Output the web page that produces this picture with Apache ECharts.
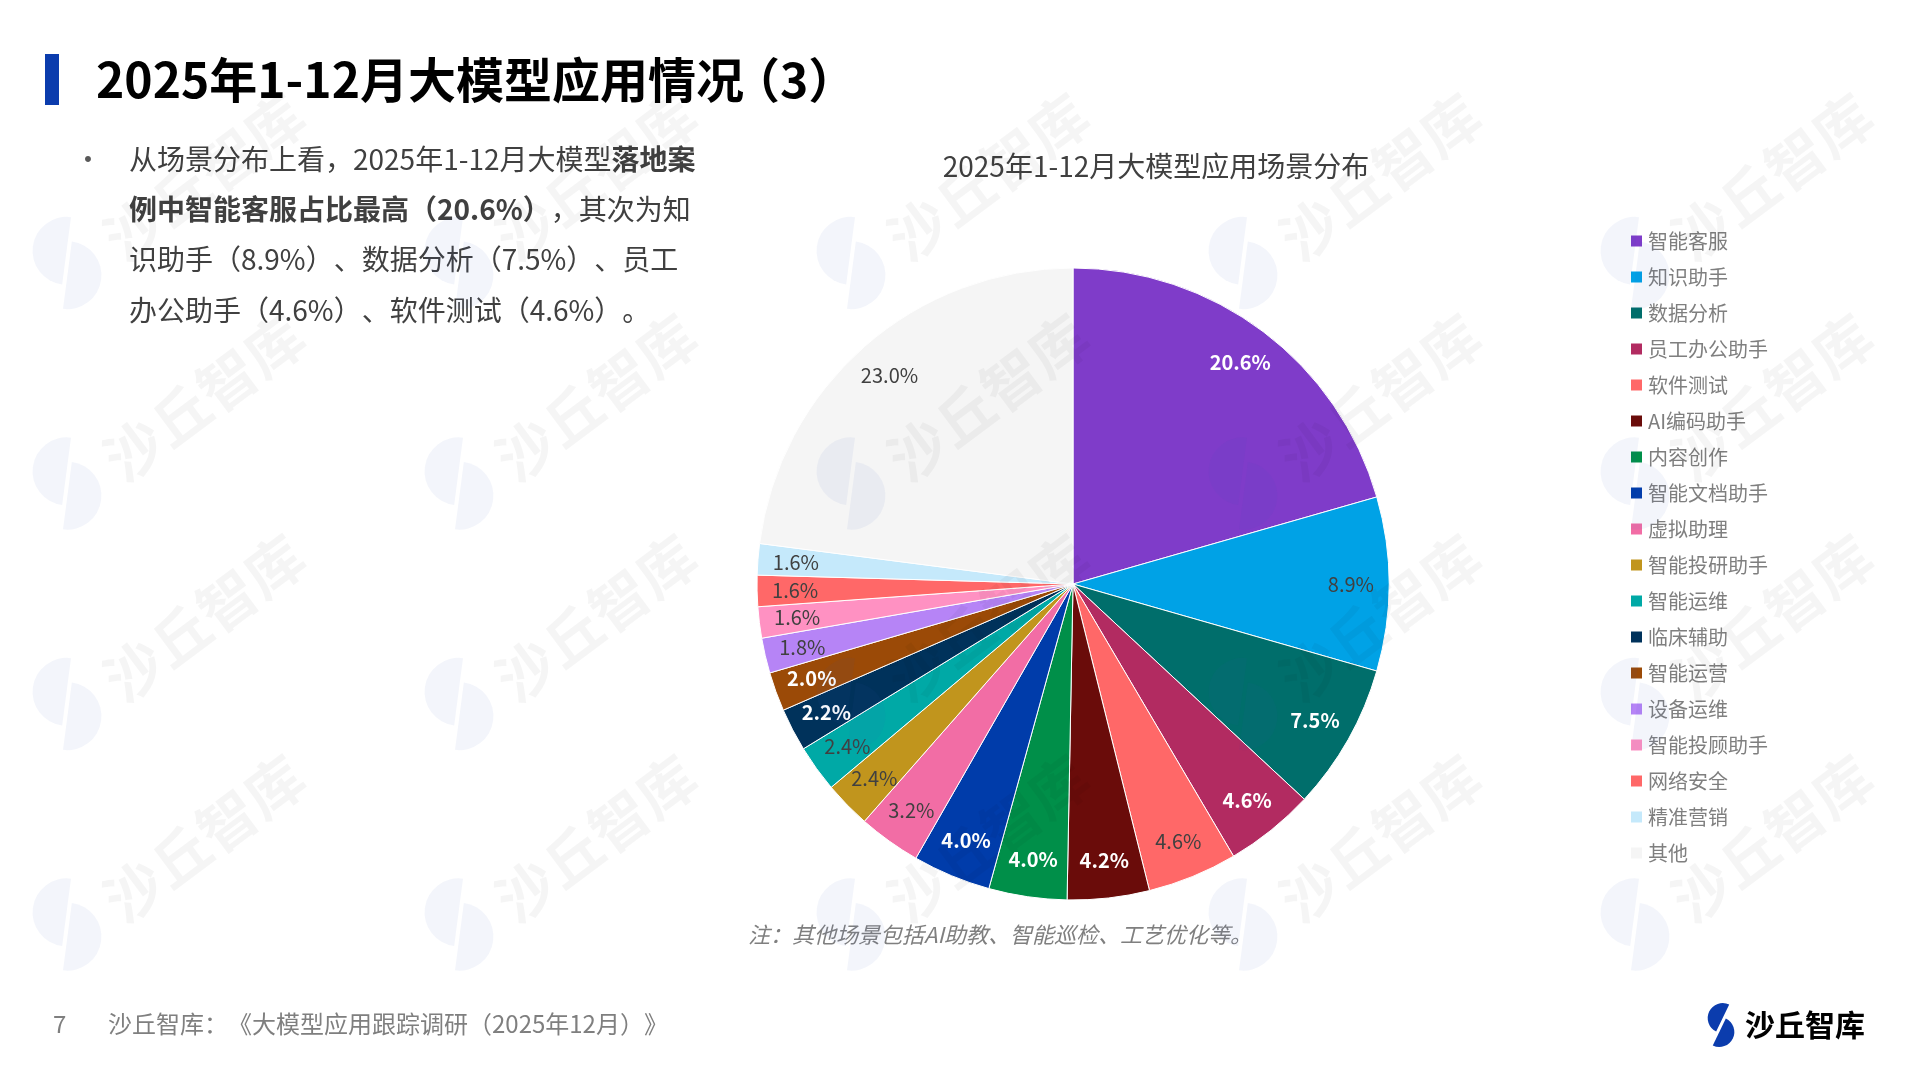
<!DOCTYPE html>
<html>
<head>
<meta charset="utf-8">
<title>2025年1-12月大模型应用情况（3）</title>
<script src="https://cdn.jsdelivr.net/npm/echarts@6/dist/echarts.min.js"></script>
<style>
  html, body { margin: 0; padding: 0; background: #fff; }
  #chart { width: 1920px; height: 1080px; }
</style>
</head>
<body>
<div id="chart"></div>
<script>
// 场景分布数据（%）
const categories = ['智能客服', '知识助手', '数据分析', '员工办公助手', '软件测试', 'AI编码助手', '内容创作', '智能文档助手', '虚拟助理', '智能投研助手', '智能运维', '临床辅助', '智能运营', '设备运维', '智能投顾助手', '网络安全', '精准营销', '其他']
const shares = [20.6, 8.9, 7.5, 4.6, 4.6, 4.2, 4.0, 4.0, 3.2, 2.4, 2.4, 2.2, 2.0, 1.8, 1.6, 1.6, 1.6, 23.0]
const sliceColors = ['#7f3cc9', '#00a2e6', '#006e6b', '#b22b61', '#ff6868', '#6a0c0a', '#008f49', '#003caa', '#f26da5', '#c1951d', '#00a9a6', '#00325b', '#9b4a07', '#b684f6', '#ff91c2', '#ff6868', '#c5e9fb', '#f5f5f5']
// 深色扇区上用白色加粗标签
const whiteLabels = ['智能客服', '数据分析', '员工办公助手', 'AI编码助手', '内容创作', '智能文档助手', '临床辅助', '智能运营']

const pageTitle = '2025年1-12月大模型应用情况'
const chartTitle = '2025年1-12月大模型应用场景分布'
const noteText = '注：其他场景包括AI助教、智能巡检、工艺优化等。'
// 标点分段绘制，避免浏览器把相邻的全角标点挤掉一半
const footerText = '{f|沙丘智库：}{f|《}{f|大模型应用跟踪调研（2025年12月）}{f|》}'
const summaryLines = [
  '{n|从场景分布上看，2025年1-12月大模型}{b|落地案}',
  '{b|例中智能客服占比最高（20.6%）}{n|，其次为知}',
  '{n|识助手（8.9%）}{n|、数据分析（7.5%）}{n|、员工}',
  '{n|办公助手（4.6%）}{n|、软件测试（4.6%）}{n|。}',
]

const FONT = '"Noto Sans CJK SC", "Noto Sans", sans-serif'
const chart = echarts.init(document.getElementById('chart'))

// 沙丘 logo：两个错开的半圆
const logoPieces = (cx, cy, r, tilt, shift, gap, fill, z) => {
  const ux = Math.sin(tilt), uy = -Math.cos(tilt)
  const px = Math.cos(tilt), py = Math.sin(tilt)
  return [
    {
      type: 'sector', z,
      shape: { cx: cx + shift * ux - gap * px, cy: cy + shift * uy - gap * py, r, startAngle: Math.PI / 2 + tilt, endAngle: Math.PI * 1.5 + tilt },
      style: { fill },
    },
    {
      type: 'sector', z,
      shape: { cx: cx - shift * ux + gap * px, cy: cy - shift * uy + gap * py, r, startAngle: -Math.PI / 2 + tilt, endAngle: Math.PI / 2 + tilt },
      style: { fill },
    },
  ]
}

const titleFont = `bold 48px ${FONT}`
// 量一下标题宽度，（3）的括号按压缩后的宽度紧跟其后
const measureCtx = document.createElement('canvas').getContext('2d')
measureCtx.font = titleFont
const titleEnd = 96 + measureCtx.measureText(pageTitle).width
const threeWidth = measureCtx.measureText('3').width

const elements = [
  { type: 'rect', shape: { x: 45, y: 54, width: 14, height: 51 }, style: { fill: '#0b3cad' } },
  {
    type: 'text', x: 96, y: 80,
    style: { text: pageTitle, font: titleFont, fill: '#000', verticalAlign: 'middle' },
  },
  { type: 'text', x: titleEnd - 12, y: 80, style: { text: '（', font: titleFont, fill: '#000', verticalAlign: 'middle' } },
  { type: 'text', x: titleEnd + 36, y: 80, style: { text: '3', font: titleFont, fill: '#000', verticalAlign: 'middle' } },
  { type: 'text', x: titleEnd + 36 + threeWidth, y: 80, style: { text: '）', font: titleFont, fill: '#000', verticalAlign: 'middle' } },
  {
    type: 'text', x: 88, y: 159,
    style: { text: '•', font: `28px ${FONT}`, fill: '#595959', align: 'center', verticalAlign: 'middle' },
  },
  {
    type: 'text', x: 1156, y: 166,
    style: { text: chartTitle, font: `28px ${FONT}`, fill: '#404040', align: 'center', verticalAlign: 'middle' },
  },
  {
    type: 'text', x: 1000, y: 935,
    style: { text: noteText, font: `italic 22px ${FONT}`, fill: '#7f7f7f', align: 'center', verticalAlign: 'middle' },
  },
  {
    type: 'text', x: 53, y: 1024,
    style: { text: '7', font: `24px ${FONT}`, fill: '#7f7f7f', verticalAlign: 'middle' },
  },
  {
    type: 'text', x: 108, y: 1024,
    style: {
      text: footerText, verticalAlign: 'middle',
      rich: { f: { fontSize: 24, fontFamily: FONT, fill: '#7f7f7f' } },
    },
  },
  ...logoPieces(1721, 1025, 15, 0.45, 7, 1.5, '#0b3cad', 1),
  {
    type: 'text', x: 1745, y: 1025,
    style: { text: '沙丘智库', font: `bold 30px ${FONT}`, fill: '#000', verticalAlign: 'middle' },
  },
]

summaryLines.forEach((line, i) => {
  elements.push({
    type: 'text', x: 129, y: 159 + i * 50.4,
    style: {
      text: line,
      verticalAlign: 'middle',
      rich: {
        n: { fontSize: 28, fontFamily: FONT, fill: '#404040' },
        b: { fontSize: 28, fontFamily: FONT, fontWeight: 'bold', fill: '#404040' },
      },
    },
  })
})

// 水印（压在最上层，透明度很低）
for (let col = 0; col < 5; col++) {
  for (let row = 0; row < 4; row++) {
    const cx = 67 + col * 392
    const cy = 263 + row * 220.5
    elements.push(...logoPieces(cx, cy, 34, 0.13, 12, 2, 'rgba(50,80,180,0.06)', 100))
    elements.push({
      type: 'text', z: 100, x: cx + 137, y: cy - 86, rotation: 0.64,
      style: { text: '沙丘智库', font: `bold 58px ${FONT}`, fill: 'rgba(0,0,0,0.04)', align: 'center', verticalAlign: 'middle' },
    })
  }
}

const pieCenter = [1073, 584]
const pieRadius = 316

const option = {
  backgroundColor: '#fff',
  animation: false,
  legend: {
    data: categories,
    orient: 'vertical',
    left: 1624,
    top: 226,
    itemWidth: 13,
    itemHeight: 13,
    itemGap: 16,
    icon: 'rect',
    selectedMode: false,
    textStyle: { fontSize: 20, lineHeight: 20, color: '#7f7f7f', fontFamily: FONT },
  },
  series: [
    {
      type: 'pie',
      center: pieCenter,
      radius: [0, pieRadius],
      startAngle: 90,
      clockwise: true,
      label: { show: false },
      labelLine: { show: false },
      emphasis: { disabled: true },
      itemStyle: { borderColor: '#fff', borderWidth: 1 },
      data: categories.map((name, i) => ({ name, value: shares[i], itemStyle: { color: sliceColors[i] } })),
    },
    {
      // 只用来放标签：外环中间即约 0.87R 处
      type: 'pie',
      center: pieCenter,
      radius: [pieRadius * 0.74, pieRadius],
      startAngle: 90,
      clockwise: true,
      silent: true,
      emphasis: { disabled: true },
      labelLine: { show: false },
      itemStyle: { color: 'rgba(0,0,0,0)', borderWidth: 0 },
      label: {
        show: true,
        position: 'inside',
        fontSize: 20,
        fontFamily: FONT,
        formatter: (p) => p.value.toFixed(1) + '%',
      },
      data: categories.map((name, i) => {
        const white = whiteLabels.includes(name)
        return {
          name,
          value: shares[i],
          label: { color: white ? '#fff' : '#404040', fontWeight: white ? 'bold' : 'normal' },
        }
      }),
    },
  ],
  graphic: { elements },
}

chart.setOption(option)
</script>
</body>
</html>
